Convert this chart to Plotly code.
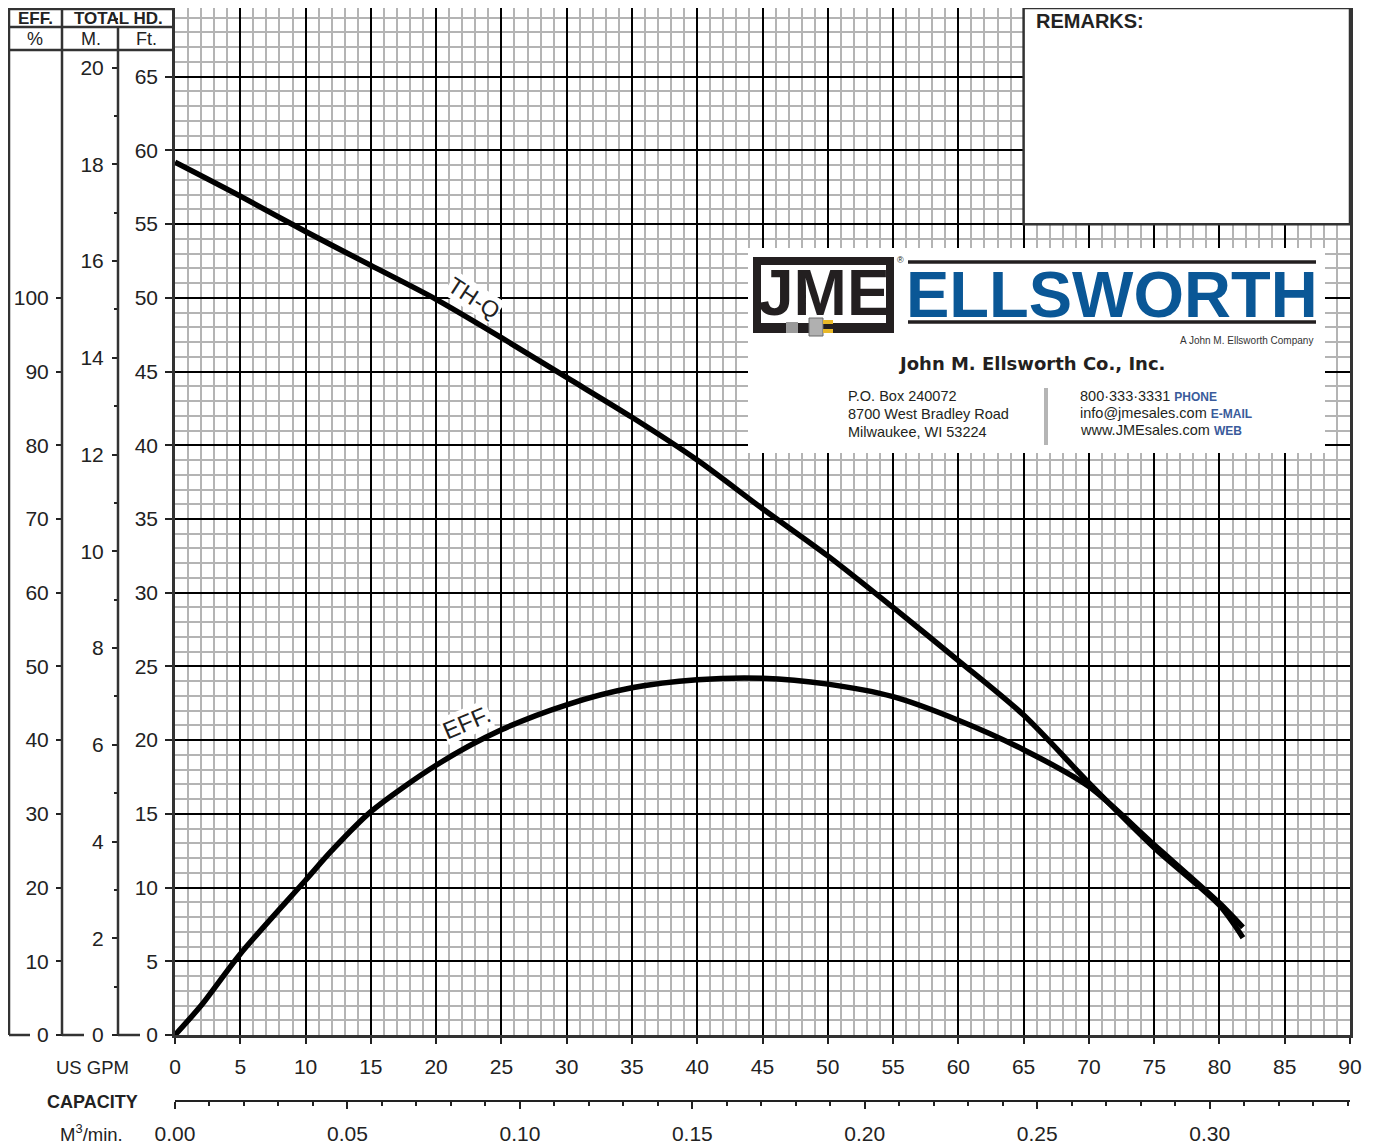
import plotly.graph_objects as go

# ---------------- data ----------------
gpm_thq = [0, 5, 10, 15, 20, 25, 30, 35, 40, 45, 50, 55, 60, 65, 70, 75, 80, 81.8]
head_ft = [59.2, 56.9, 54.5, 52.2, 49.9, 47.3, 44.6, 41.9, 39.0, 35.7, 32.5, 29.0, 25.4, 21.7, 17.1, 12.7, 8.8, 6.6]

gpm_eff = [0, 2, 5, 10, 12, 15, 20, 25, 30, 35, 40, 45, 50, 55, 60, 65, 70, 75, 80, 81.8]
eff_pct = [0, 4, 11, 21, 25.0, 30.3, 36.6, 41.4, 44.8, 47.1, 48.2, 48.4, 47.6, 45.9, 42.7, 38.7, 33.7, 25.8, 17.9, 14.6]

ft_ticks = list(range(0, 70, 5))
m_ticks = list(range(0, 21, 2))
eff_ticks = list(range(0, 101, 10))
GAL_M3 = 0.003785411784
FT_M = 0.3048

# page body has an 8px margin; layout coordinates below are window pixels
OFF = 8
W, H = 1377 - OFF, 1146 - OFF
def X(px):
    return (px - OFF) / W
def Y(py):
    return 1 - (py - OFF) / H

PLOT_TOP, PLOT_BOT = 8, 1035
PX_PER_FT = (1035 - 3) / 70.0
YTOP = (PLOT_BOT - PLOT_TOP) / PX_PER_FT

FONT = "Liberation Sans, Arial, sans-serif"
TXT = "#222222"
DARK = "#333333"

fig = go.Figure()

# TH-Q curve (ft)
fig.add_trace(go.Scatter(x=gpm_thq, y=head_ft, mode="lines",
                         line=dict(color="black", width=5.5, shape="spline", smoothing=0.8),
                         hoverinfo="skip", showlegend=False))
# EFF curve (%)
fig.add_trace(go.Scatter(x=gpm_eff, y=eff_pct, yaxis="y3", mode="lines",
                         line=dict(color="black", width=5.5, shape="spline", smoothing=0.8),
                         hoverinfo="skip", showlegend=False))
# helper (invisible) traces so the secondary scales are drawn
fig.add_trace(go.Scatter(x=gpm_thq, y=[h * FT_M for h in head_ft], yaxis="y2", mode="lines",
                         opacity=0, hoverinfo="skip", showlegend=False))
fig.add_trace(go.Scatter(x=[g * GAL_M3 for g in gpm_thq], y=head_ft, xaxis="x2", mode="lines",
                         opacity=0, hoverinfo="skip", showlegend=False))

tickfont = dict(family=FONT, size=21, color=TXT)

fig.update_layout(
    width=W, height=H, margin=dict(l=0, r=0, t=0, b=0),
    paper_bgcolor="white", plot_bgcolor="white",
    template="none", showlegend=False,
    xaxis=dict(domain=[X(175), X(1350)], range=[0, 90], tickmode="linear", tick0=0, dtick=5,
               showgrid=True, gridcolor="black", gridwidth=2,
               minor=dict(tickmode="linear", tick0=0, dtick=1, showgrid=True, gridcolor="#b4b4b4", gridwidth=1.5, ticks=""),
               ticks="outside", ticklen=6, tickwidth=2, tickcolor=TXT, tickfont=tickfont,
               ticklabelstandoff=5,
               showline=True, linecolor=DARK, linewidth=2.5, mirror=True, zeroline=False, automargin=False),
    yaxis=dict(domain=[Y(PLOT_BOT), Y(PLOT_TOP)], range=[0, YTOP], tickmode="array", tickvals=ft_ticks,
               showgrid=True, gridcolor="black", gridwidth=2,
               minor=dict(tickmode="linear", tick0=0, dtick=1, showgrid=True, gridcolor="#b4b4b4", gridwidth=1.5, ticks=""),
               ticks="outside", ticklen=7, tickwidth=2, tickcolor=TXT, tickfont=tickfont,
               ticklabelstandoff=3,
               showline=True, linecolor=DARK, linewidth=2.5, mirror=True, zeroline=False, automargin=False),
    yaxis2=dict(overlaying="y", anchor="free", position=X(118), side="left",
                range=[0, YTOP * FT_M], tickmode="array", tickvals=m_ticks,
                minor=dict(tickmode="linear", tick0=0, dtick=1, ticks="outside", ticklen=4, tickwidth=2, tickcolor=TXT, showgrid=False),
                ticks="outside", ticklen=6, tickwidth=2, tickcolor=TXT, tickfont=tickfont,
                ticklabelstandoff=4, showgrid=False, showline=False, zeroline=False, automargin=False),
    yaxis3=dict(overlaying="y", anchor="free", position=X(62), side="left",
                range=[0, YTOP * 2], tickmode="array", tickvals=eff_ticks,
                ticks="outside", ticklen=6, tickwidth=2, tickcolor=TXT, tickfont=tickfont,
                ticklabelstandoff=3, showgrid=False, showline=False, zeroline=False, automargin=False),
    xaxis2=dict(overlaying="x", anchor="free", position=Y(1101), side="bottom",
                range=[0, 90 * GAL_M3], tickmode="linear", tick0=0, dtick=0.05, tickformat=".2f",
                minor=dict(tickmode="linear", tick0=0, dtick=0.01, ticks="outside", ticklen=4, tickwidth=2, tickcolor=TXT, showgrid=False),
                ticks="outside", ticklen=7, tickwidth=2, tickcolor=TXT, tickfont=tickfont,
                ticklabelstandoff=7, showgrid=False, showline=True, linecolor=TXT, linewidth=2,
                zeroline=False, automargin=False),
)

shapes = []
def pline(x0, y0, x1, y1, color=DARK, width=2.5):
    shapes.append(dict(type="line", xref="paper", yref="paper", x0=X(x0), y0=Y(y0), x1=X(x1), y1=Y(y1),
                       line=dict(color=color, width=width), layer="above"))
def prect(x0, y0, x1, y1, fill, color=None, width=0):
    shapes.append(dict(type="rect", xref="paper", yref="paper", x0=X(x0), y0=Y(y0), x1=X(x1), y1=Y(y1),
                       fillcolor=fill, line=dict(color=color or fill, width=width), layer="above"))

# left scale panel
pline(9, 8, 9, 1035)
pline(62, 8, 62, 1035)
pline(118, 27, 118, 1035)
pline(9, 9, 175, 9)
pline(9, 27, 175, 27)
pline(9, 50, 175, 50)
pline(9, 1035, 30, 1035)
pline(62, 1035, 84, 1035)
pline(118, 1035, 140, 1035)
# right frame
pline(1373, 8, 1373, 1146, width=2)

# remarks box (data coords)
shapes.append(dict(type="rect", xref="x", yref="y", x0=65, x1=90, y0=55, y1=YTOP, fillcolor="white",
                   line=dict(color=DARK, width=2.5), layer="above"))

# logo box
prect(748, 248, 1325, 453, "white")
prect(753, 257, 894, 333, "#231f20")
prect(761, 265, 886, 323, "white")
prect(786, 322, 798, 333, "#9a9a9a")
prect(809, 318, 823, 336, "#b0b0b0", "#6a6a6a", 1)
prect(823, 320, 833, 324, "#e8b828")
prect(823, 329, 833, 333, "#e8b828")
pline(908, 262, 1316, 262, color="#231f20", width=3.5)
pline(908, 322, 1316, 322, color="#231f20", width=3.5)
pline(1046, 388, 1046, 445, color="#b5b5b5", width=4)

fig.update_layout(shapes=shapes)

ann = []
def ptext(x, y, text, size, bold=False, xanchor="center", color=TXT, family=FONT, angle=0):
    ann.append(dict(xref="paper", yref="paper", x=X(x), y=Y(y), text=(f"<b>{text}</b>" if bold else text),
                    showarrow=False, xanchor=xanchor, yanchor="middle",
                    font=dict(family=family, size=size, color=color), textangle=angle))

ptext(35, 18, "EFF.", 17, bold=True)
ptext(118, 18, "TOTAL HD.", 17, bold=True)
ptext(35, 39, "%", 18)
ptext(91, 39, "M.", 18)
ptext(146, 39, "Ft.", 18)

ptext(92, 1067, "US GPM", 18.5)
ptext(92, 1102, "CAPACITY", 18, bold=True)
ptext(91, 1133, "M<sup>3</sup>/min.", 18.5)

ptext(1034, 21, "REMARKS:", 20, bold=True, xanchor="left")

# logo texts
ptext(824, 293, "JME", 64, bold=True, color="#231f20", family="Liberation Sans Narrow, Liberation Sans, Arial")
ptext(900, 260, "®", 9, color="#231f20")
ptext(1112, 294, "ELLSWORTH", 65, bold=True, color="#0a5796")
ptext(1315, 341, "A John M. Ellsworth Company", 10, xanchor="right", color="#333333",
      family="Liberation Sans Narrow, Liberation Sans, Arial")
ptext(1031, 363, "John M. Ellsworth Co., Inc.", 18, bold=True, color="#231f20", family="DejaVu Sans, Verdana, sans-serif")
ptext(846, 396, "P.O. Box 240072", 14.5, xanchor="left", color="#231f20")
ptext(846, 414, "8700 West Bradley Road", 14.5, xanchor="left", color="#231f20")
ptext(846, 432, "Milwaukee, WI 53224", 14.5, xanchor="left", color="#231f20")
lab = "<span style='font-size:12px;color:#3a5b9b'><b>%s</b></span>"
ptext(1078, 396, "800·333·3331 " + lab % "PHONE", 14.5, xanchor="left", color="#231f20")
ptext(1078, 413, "info@jmesales.com " + lab % "E-MAIL", 14.5, xanchor="left", color="#231f20")
ptext(1078, 430, "www.JMEsales.com " + lab % "WEB", 14.5, xanchor="left", color="#231f20")

# curve labels
ann.append(dict(xref="x", yref="y", x=22.9, y=50.0, text="TH-Q", showarrow=False, textangle=33,
                font=dict(family=FONT, size=23, color=TXT), bgcolor="white", borderpad=0))
ann.append(dict(xref="x", yref="y", x=22.3, y=21.2, text="EFF.", showarrow=False, textangle=-23,
                font=dict(family=FONT, size=24, color=TXT), bgcolor="white", borderpad=0))

fig.update_layout(annotations=ann)

fig.write_html("out.html")
